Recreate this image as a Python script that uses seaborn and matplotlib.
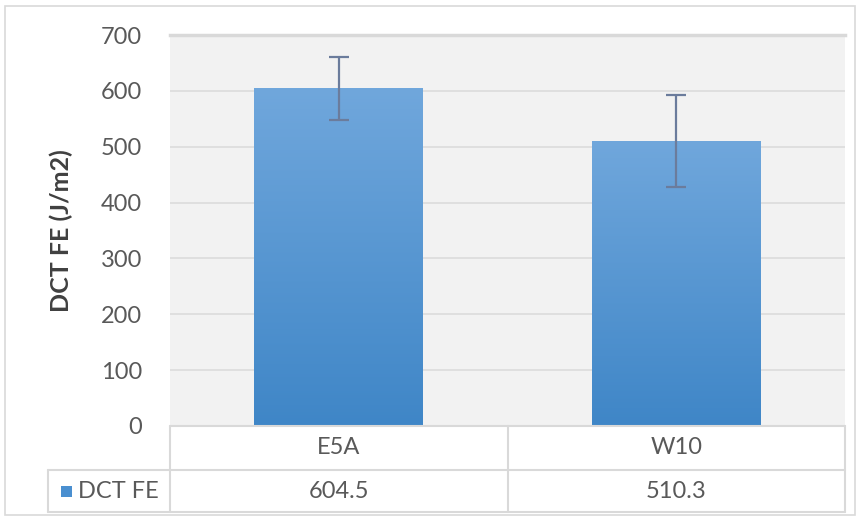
import numpy as np
import pandas as pd
import matplotlib
matplotlib.use("Agg")
import matplotlib.pyplot as plt
from matplotlib.lines import Line2D
from matplotlib.patches import Rectangle
from matplotlib.colors import LinearSegmentedColormap
import seaborn as sns

categories = ["E5A", "W10"]
values = [604.5, 510.3]
errors = [57, 82]
series_name = "DCT FE"
y_label = "DCT FE (J/m2)"
y_ticks = [0, 100, 200, 300, 400, 500, 600, 700]

sns.set_theme(style="white")
plt.rcParams['font.family'] = ['Lato', 'DejaVu Sans']

W, H = 860, 520
fig = plt.figure(figsize=(W / 100, H / 100), dpi=100)
fig.patch.set_facecolor("white")

def fx(px):
    return px / W

def fy(py):
    return 1 - py / H

ax_l, ax_r, ax_t, ax_b = 170, 845, 35, 426
ax = fig.add_axes([fx(ax_l), fy(ax_b), fx(ax_r - ax_l), fy(ax_t) - fy(ax_b)])
ax.set_facecolor("#f2f2f2")

df = pd.DataFrame({"cat": categories, "val": values})
sns.barplot(data=df, x="cat", y="val", ax=ax, width=0.5, color="#5b9bd5",
            edgecolor="none", zorder=3)

# gradient fill on bars (lighter at top, darker at bottom)
grad = np.linspace(0, 1, 256).reshape(-1, 1)
cmap = LinearSegmentedColormap.from_list("g", ["#70a7dc", "#3f86c7"])
for p in ax.patches:
    x0, y0 = p.get_x(), p.get_y()
    w, h = p.get_width(), p.get_height()
    im = ax.imshow(grad, cmap=cmap, aspect="auto", extent=[x0, x0 + w, y0, y0 + h],
                   origin="upper", zorder=3)
    im.set_clip_path(p)
    p.set_facecolor("none")

ax.errorbar(range(len(categories)), values, yerr=errors, fmt="none",
            ecolor="#6b7c9c", elinewidth=1.6, capsize=7, capthick=1.6, zorder=4)

ax.set_ylim(0, 700)
ax.set_xlim(-0.5, len(categories) - 0.5)
ax.set_yticks(y_ticks)
ax.set_yticklabels([str(t) for t in y_ticks], fontsize=17, color="#595959")
ax.tick_params(axis="y", length=0, pad=20)
ax.set_xticks([])
ax.set_xlabel("")
ax.set_ylabel(y_label, fontsize=18, fontweight="bold", color="#404040", labelpad=20)
ax.grid(axis="y", color="#dcdcdc", linewidth=1.2, zorder=0)
ax.set_axisbelow(True)
for s in ["left", "right", "bottom"]:
    ax.spines[s].set_visible(False)
ax.spines["top"].set_color("#d9d9d9")
ax.spines["top"].set_linewidth(2.5)

# data table below the plot
lc = "#d9d9d9"
lw = 1.5
row1_b, row2_b = 470, 512
col_l = 48
ncat = len(categories)
col_w = (ax_r - ax_l) / ncat

def hline(x0, x1, y):
    fig.add_artist(Line2D([fx(x0), fx(x1)], [fy(y), fy(y)], color=lc, lw=lw))

def vline(x, y0, y1):
    fig.add_artist(Line2D([fx(x), fx(x)], [fy(y0), fy(y1)], color=lc, lw=lw))

hline(ax_l, ax_r, ax_b)
hline(col_l, ax_r, row1_b)
hline(col_l, ax_r, row2_b)
vline(col_l, row1_b, row2_b)
for i in range(ncat + 1):
    vline(ax_l + i * col_w, ax_b, row2_b)

for i, (c, v) in enumerate(zip(categories, values)):
    cx = ax_l + (i + 0.5) * col_w
    fig.text(fx(cx), fy((ax_b + row1_b) / 2), c, ha="center", va="center",
             fontsize=17, color="#595959")
    fig.text(fx(cx), fy((row1_b + row2_b) / 2), f"{v:.1f}", ha="center", va="center",
             fontsize=17, color="#595959")

fig.add_artist(Rectangle((fx(61), fy(497)), fx(11), fy(486) - fy(497),
                         facecolor="#4a8fd0", edgecolor="none"))
fig.text(fx(78), fy((row1_b + row2_b) / 2), series_name, ha="left", va="center",
         fontsize=17, color="#595959")

# outer chart border
fig.add_artist(Rectangle((fx(5), fy(515)), fx(850), fy(6) - fy(515), fill=False,
                         edgecolor="#d9d9d9", lw=1.2))

fig.savefig("out.png", dpi=100, facecolor="white")
